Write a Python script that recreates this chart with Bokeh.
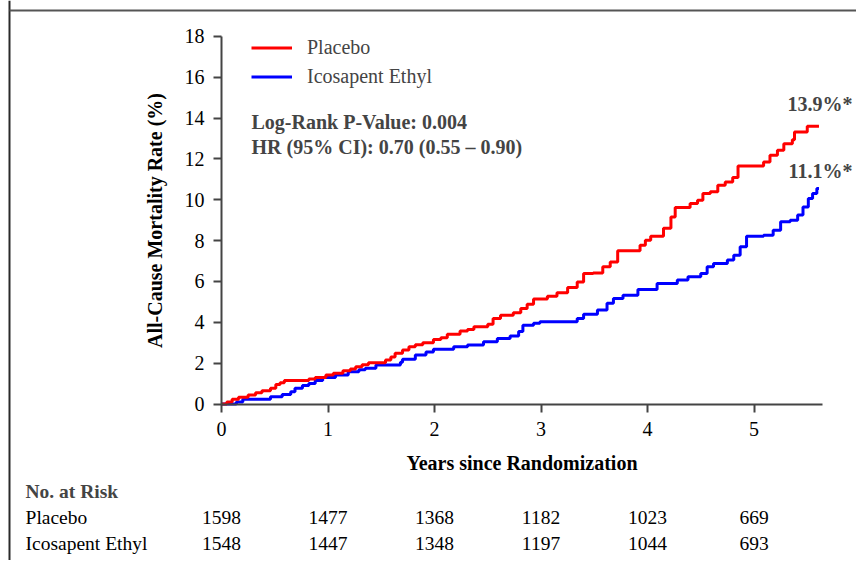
from bokeh.plotting import figure
from bokeh.models import (Label, Legend, LegendItem, FixedTicker, Range1d, ColumnDataSource)
from bokeh.core.properties import value
from bokeh.embed import file_html
from bokeh.resources import INLINE

# ---- data ----
placebo_t = [0.00, 0.05, 0.10, 0.16, 0.25, 0.32, 0.38, 0.46, 0.51, 0.55, 0.59, 0.82, 0.88,
             0.98, 1.05, 1.14, 1.21, 1.26, 1.32, 1.38, 1.54, 1.59, 1.63, 1.70, 1.76, 1.82,
             1.89, 1.99, 2.06, 2.12, 2.24, 2.31, 2.37, 2.50, 2.55, 2.62, 2.74, 2.81, 2.87,
             2.93, 3.06, 3.15, 3.25, 3.34, 3.40, 3.49, 3.58, 3.65, 3.72, 3.93, 3.98, 4.03,
             4.15, 4.22, 4.26, 4.40, 4.47, 4.52, 4.59, 4.66, 4.73, 4.80, 4.85, 5.09, 5.15,
             5.22, 5.28, 5.36, 5.38, 5.50, 5.61]
placebo_v = [0.00, 0.10, 0.23, 0.33, 0.44, 0.55, 0.65, 0.77, 0.95, 1.04, 1.15, 1.22, 1.30,
             1.42, 1.50, 1.63, 1.72, 1.82, 1.92, 2.02, 2.15, 2.30, 2.48, 2.65, 2.80, 2.90,
             3.00, 3.16, 3.25, 3.42, 3.57, 3.65, 3.78, 3.90, 4.19, 4.35, 4.47, 4.68, 4.89,
             5.14, 5.28, 5.45, 5.71, 5.98, 6.39, 6.42, 6.72, 6.96, 7.50, 7.78, 8.02, 8.22,
             8.61, 9.16, 9.62, 9.82, 9.98, 10.31, 10.39, 10.71, 10.87, 11.09, 11.65, 11.85, 12.18,
             12.43, 12.75, 12.94, 13.32, 13.60, 13.60]

ipe_t = [0.00, 0.14, 0.20, 0.46, 0.57, 0.65, 0.69, 0.76, 0.82, 0.88, 0.95, 1.07, 1.19,
         1.29, 1.35, 1.45, 1.68, 1.70, 1.82, 1.92, 1.99, 2.18, 2.31, 2.46, 2.59, 2.71,
         2.79, 2.83, 2.93, 2.99, 3.34, 3.40, 3.53, 3.62, 3.68, 3.77, 3.91, 4.09, 4.28,
         4.38, 4.50, 4.56, 4.62, 4.75, 4.81, 4.87, 4.93, 5.09, 5.18, 5.25, 5.34, 5.41,
         5.46, 5.51, 5.55, 5.59, 5.61]
ipe_v = [0.00, 0.10, 0.23, 0.36, 0.47, 0.60, 0.77, 0.90, 1.01, 1.15, 1.30, 1.42, 1.58,
         1.68, 1.75, 1.91, 2.05, 2.19, 2.40, 2.55, 2.68, 2.80, 2.89, 3.05, 3.21, 3.33,
         3.55, 3.86, 3.95, 4.03, 4.19, 4.40, 4.60, 4.93, 5.17, 5.33, 5.61, 5.90, 6.07,
         6.23, 6.39, 6.72, 6.88, 7.05, 7.29, 7.70, 8.22, 8.27, 8.51, 8.92, 9.00, 9.25,
         9.65, 10.06, 10.31, 10.55, 10.55]

x_ticks = [0, 1, 2, 3, 4, 5]
y_ticks = [0, 2, 4, 6, 8, 10, 12, 14, 16, 18]

series_names = ["Placebo", "Icosapent Ethyl"]
risk_placebo = [1598, 1477, 1368, 1182, 1023, 669]
risk_ipe = [1548, 1447, 1348, 1197, 1044, 693]
final_labels = ["13.9%*", "11.1%*"]
stats_lines = ["Log-Rank P-Value: 0.004", "HR (95% CI): 0.70 (0.55 \u2013 0.90)"]

FONT = "Liberation Serif"
FS = "20px"
FS_TAB = "19.5px"
AX = "#444444"
X_END = 5.643

W, H = 856, 560
p = figure(width=W, height=H, output_backend="svg", toolbar_location=None,
           x_range=Range1d(-2.0751, 5.9624), y_range=Range1d(-7.664, 19.760),
           min_border=0, min_border_left=0, min_border_right=0,
           min_border_top=0, min_border_bottom=0)
p.grid.visible = False
p.outline_line_color = None
p.background_fill_color = "white"
p.border_fill_color = "white"

# picture border (left and top edges)
p.segment(x0=[-1.9906], y0=[19.760], x1=[-1.9906], y1=[-7.664], line_color="#2a2a2a", line_width=2)
p.segment(x0=[-1.9906], y0=[19.270], x1=[5.9624], y1=[19.270], line_color="#555555", line_width=2)

r_ipe = p.step(ipe_t, ipe_v, mode="after", line_color="#0000FF", line_width=3)
r_pla = p.step(placebo_t, placebo_v, mode="after", line_color="#FF0000", line_width=3)

legend = Legend(items=[LegendItem(label=series_names[0], renderers=[r_pla]),
                       LegendItem(label=series_names[1], renderers=[r_ipe])],
                location=(251, 472), glyph_width=41, glyph_height=23, label_height=23,
                label_standoff=15, spacing=6, padding=0, margin=0,
                border_line_color=None, background_fill_alpha=0,
                label_text_font=FONT, label_text_font_size=FS)
p.add_layout(legend)

p.xaxis.ticker = FixedTicker(ticks=x_ticks)
p.yaxis.ticker = FixedTicker(ticks=y_ticks)
p.xaxis.fixed_location = 0
p.yaxis.fixed_location = 0
p.xaxis.bounds = (0, X_END)
p.yaxis.bounds = (0, 18)
for ax in (p.xaxis[0], p.yaxis[0]):
    ax.axis_line_color = AX
    ax.axis_line_width = 2
    ax.major_tick_line_color = AX
    ax.major_tick_line_width = 2
    ax.major_tick_out = 8
    ax.major_tick_in = 0
    ax.minor_tick_line_color = None
    ax.major_label_text_font = FONT
    ax.major_label_text_font_size = FS
    ax.major_label_text_color = "black"
    ax.axis_label_text_font = FONT
    ax.axis_label_text_font_size = FS
    ax.axis_label_text_font_style = "bold"
    ax.axis_label_text_color = "black"
p.xaxis.axis_label = "Years since Randomization"
p.yaxis.axis_label = "All-Cause Mortality Rate (%)"
p.xaxis.major_label_standoff = 10
p.xaxis.axis_label_standoff = 12
p.yaxis.major_label_standoff = 9
p.yaxis.axis_label_standoff = 16

# statistics text
for txt, yv in zip(stats_lines, [13.81, 12.61]):
    p.add_layout(Label(x=0.282, y=yv, text=txt, text_font=FONT, text_font_size=FS,
                       text_font_style="bold", text_baseline="middle", text_align="left"))

# final value annotations
for txt, yv in zip(final_labels, [14.67, 11.43]):
    p.add_layout(Label(x=5.925, y=yv, text=txt, text_font=FONT, text_font_size=FS,
                       text_font_style="bold", text_baseline="middle", text_align="right"))

# number at risk table
p.add_layout(Label(x=-1.84, y=-4.285, text="No. at Risk", text_font=FONT, text_font_size=FS_TAB,
                   text_font_style="bold", text_baseline="middle", text_align="left"))
row_y = [-5.558, -6.832]
p.text(x=[-1.84, -1.84], y=row_y, text=series_names, text_font=value(FONT),
       text_font_size=FS_TAB, text_baseline="middle", text_align="left", text_color="black")
for row, yv in zip([risk_placebo, risk_ipe], row_y):
    src = ColumnDataSource(dict(x=x_ticks, y=[yv] * len(x_ticks), t=[str(n) for n in row]))
    p.text(x="x", y="y", text="t", source=src, text_font=value(FONT), text_font_size=FS_TAB,
           text_baseline="middle", text_align="center", text_color="black")

open("out.html", "w").write(file_html(p, INLINE))
